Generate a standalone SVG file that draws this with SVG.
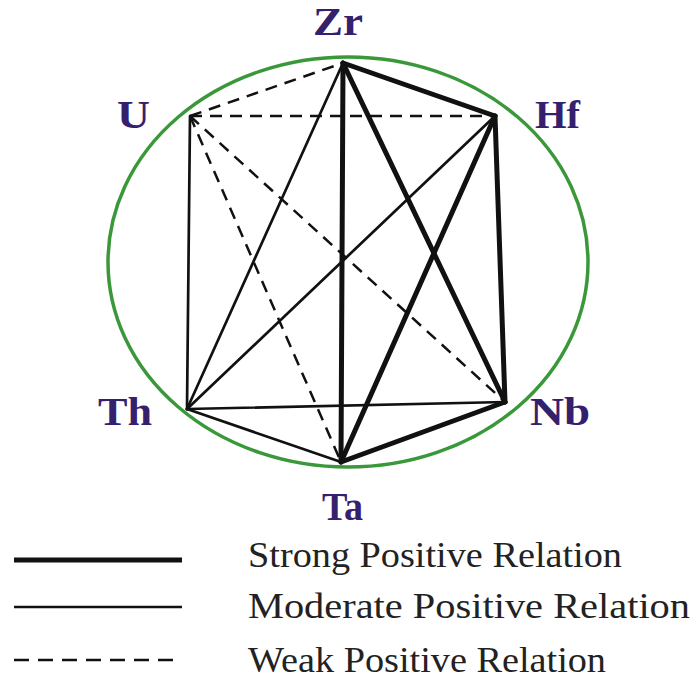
<svg xmlns="http://www.w3.org/2000/svg" width="696" height="688" viewBox="0 0 696 688">
<style>
.lbl{font-family:"Liberation Serif","Times New Roman",serif;font-weight:bold;font-size:39px;fill:#35206e}
.leg{font-family:"Liberation Serif","Times New Roman",serif;font-size:35px;fill:#222}
.strong{stroke:#111;stroke-width:5;stroke-linecap:round;fill:none}
.mod{stroke:#111;stroke-width:2.7;stroke-linecap:round;fill:none}
.weak{stroke:#111;stroke-width:2.5;stroke-dasharray:12 8;fill:none}
</style>
<rect width="696" height="688" fill="#fff"/>
<ellipse cx="348" cy="262" rx="240" ry="205" fill="none" stroke="#3a983a" stroke-width="3.5"/>
<g id="connectors">
<line class="weak" x1="190" y1="116" x2="343" y2="63"/>
<line class="weak" x1="190" y1="116" x2="495" y2="116"/>
<line class="weak" x1="190" y1="116" x2="505" y2="402"/>
<line class="weak" x1="190" y1="116" x2="341" y2="462"/>
<line class="mod" x1="190" y1="116" x2="187" y2="409"/>
<line class="mod" x1="187" y1="409" x2="343" y2="63"/>
<line class="mod" x1="187" y1="409" x2="495" y2="116"/>
<line class="mod" x1="187" y1="409" x2="505" y2="402"/>
<line class="mod" x1="187" y1="409" x2="341" y2="462"/>
<line class="strong" x1="343" y1="63" x2="495" y2="116"/>
<line class="strong" x1="343" y1="63" x2="341" y2="462"/>
<line class="strong" x1="343" y1="63" x2="505" y2="402"/>
<line class="strong" x1="495" y1="116" x2="505" y2="402"/>
<line class="strong" x1="495" y1="116" x2="341" y2="462"/>
<line class="strong" x1="505" y1="402" x2="341" y2="462"/>
</g>
<g id="Zr"><text class="lbl" x="313" y="35" textLength="50" lengthAdjust="spacingAndGlyphs">Zr</text></g>
<g id="U"><text class="lbl" x="117" y="128" textLength="33" lengthAdjust="spacingAndGlyphs">U</text></g>
<g id="Hf"><text class="lbl" x="535" y="128" textLength="45" lengthAdjust="spacingAndGlyphs">Hf</text></g>
<g id="Th"><text class="lbl" x="98" y="425" textLength="54" lengthAdjust="spacingAndGlyphs">Th</text></g>
<g id="Nb"><text class="lbl" x="530" y="425" textLength="60" lengthAdjust="spacingAndGlyphs">Nb</text></g>
<g id="Ta"><text class="lbl" x="322" y="520" textLength="41" lengthAdjust="spacingAndGlyphs">Ta</text></g>
<g id="legend">
<line x1="14" y1="560" x2="182" y2="560" stroke="#111" stroke-width="5"/>
<line x1="14" y1="607" x2="182" y2="607" stroke="#111" stroke-width="2.7"/>
<line x1="14" y1="660" x2="182" y2="660" stroke="#111" stroke-width="2.7" stroke-dasharray="15 9"/>
<text class="leg" x="248" y="567" textLength="374" lengthAdjust="spacingAndGlyphs">Strong Positive Relation</text>
<text class="leg" x="248" y="618" textLength="442" lengthAdjust="spacingAndGlyphs">Moderate Positive Relation</text>
<text class="leg" x="248" y="672" textLength="358" lengthAdjust="spacingAndGlyphs">Weak Positive Relation</text>
</g>
</svg>
